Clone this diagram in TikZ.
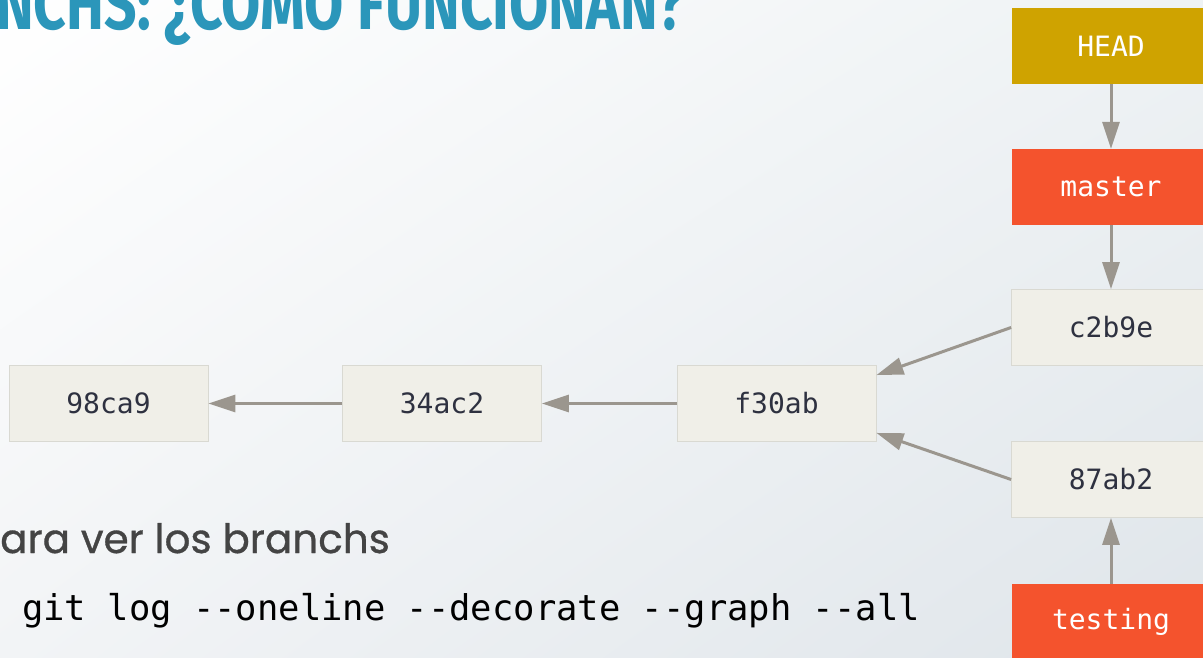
\documentclass[tikz,border=0pt]{standalone}
\usepackage{fontspec}
\usetikzlibrary{arrows.meta,calc,shadings}
\newfontfamily\hashfont{DejaVu Sans Mono}
\newfontfamily\cmdfont{DejaVu Sans Mono}
\newfontfamily\bodyfont[FakeBold=0.8]{Poppins}
\newfontfamily\headfont{Fira Sans}
\definecolor{bgA}{HTML}{FFFFFF}
\definecolor{bgB}{HTML}{EEF2F4}
\definecolor{bgC}{HTML}{F2F4F6}
\definecolor{bgD}{HTML}{DFE5EA}
\definecolor{commitfill}{HTML}{F0EFE8}
\definecolor{commitline}{HTML}{D9D9D2}
\definecolor{headfill}{HTML}{CFA300}
\definecolor{branchfill}{HTML}{F4532D}
\definecolor{arrowgray}{HTML}{9B968E}
\definecolor{hashtext}{HTML}{2E3140}
\definecolor{titleblue}{HTML}{2B96BA}
\definecolor{bodygray}{HTML}{444444}
\tikzset{
  commitbox/.style={draw=commitline, line width=0.8pt, fill=commitfill,
    minimum width=199pt, minimum height=76pt, inner sep=0pt,
    font=\hashfont\fontsize{28}{32}\selectfont, text=hashtext},
  refbox/.style={fill=#1, minimum width=199pt, minimum height=76pt, inner sep=0pt,
    font=\hashfont\fontsize{28}{32}\selectfont, text=white},
  link/.style={draw=arrowgray, line width=3pt,
    -{Triangle[length=27pt,width=17pt]}, shorten >=0pt}
}
\begin{document}
\begin{tikzpicture}[x=1pt,y=-1pt]
  % page and backdrop
  \useasboundingbox (0,0) rectangle (1203,658);
  \clip (0,0) rectangle (1203,658);
  \shade[upper left=bgA, upper right=bgB, lower left=bgC, lower right=bgD]
    (0,0) rectangle (1203,658);

  % slide heading, running off the top edge
  \node[anchor=base west, inner sep=0pt, text=titleblue,
        font=\headfont\bfseries\fontsize{72}{78}\selectfont]
    (heading) at (-4,30) {\scalebox{0.79}[1]{\llap{BRA}NCHS: ¿CÓMO FUNCIONAN?}};

  % commits
  \node[commitbox] (c98) at (108.5,403.5) {98ca9};
  \node[commitbox] (c34) at (442,403.5) {34ac2};
  \node[commitbox] (cf3) at (776.5,403.5) {f30ab};
  \node[commitbox] (cc2) at (1111,327.5) {c2b9e};
  \node[commitbox] (c87) at (1111,479.5) {87ab2};

  % references
  \node[refbox=headfill]   (head)    at (1111,46)  {HEAD};
  \node[refbox=branchfill] (master)  at (1111,187) {master};
  \node[refbox=branchfill] (testing) at (1111,622) {testing};

  % parent links
  \draw[link] (cf3.west) -- (c34.east);
  \draw[link] (c34.west) -- (c98.east);
  \draw[link] (cc2.west) -- ([yshift=-10pt]cf3.north east);
  \draw[link] (c87.west) -- ([yshift=9pt]cf3.south east);
  \draw[link] (head.south) -- (master.north);
  \draw[link] (master.south) -- (cc2.north);
  \draw[link] (testing.north) -- (c87.south);

  % caption and command
  \node[anchor=base west, inner sep=0pt, text=bodygray,
        font=\bodyfont\fontsize{40.5}{46}\selectfont]
    (caption) at (0,553) {\llap{P}ara ver los branchs};
  \node[anchor=base west, inner sep=0pt, text=black,
        font=\cmdfont\fontsize{35.5}{40}\selectfont]
    (command) at (22,620) {git log --oneline --decorate --graph --all};
\end{tikzpicture}
\end{document}
